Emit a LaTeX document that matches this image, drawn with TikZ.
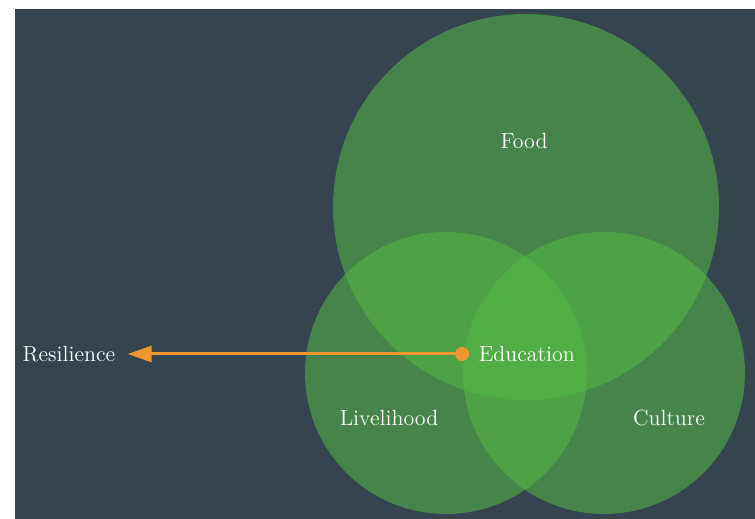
\documentclass[tikz,border=0pt]{standalone}
\usetikzlibrary{arrows.meta,positioning}
\definecolor{slate}{RGB}{52,69,79}
\definecolor{leaf}{RGB}{85,185,70}
\definecolor{carrot}{RGB}{240,150,46}
\tikzset{
	ring/.style={fill=leaf,fill opacity=0.55},
	word/.style={text=white,font=\fontsize{11}{13}\selectfont,inner sep=0pt},
}
\begin{document}
\begin{tikzpicture}[x=0.5pt,y=0.5pt]
		\useasboundingbox (0,0) rectangle (755,519);
		% nền
		\fill[slate] (15,0) rectangle (755,510);
		% ba hình tròn
		\begin{scope}
			\fill[ring] (526,312) circle (193);
			\fill[ring] (446,146) circle (141);
			\fill[ring] (604,146) circle (141);
		\end{scope}
			\node[word] (food) at (524,378) {Food};
			\node[word] (livelihood) at (389,101) {Livelihood};
			\node[word] (culture) at (669,101) {Culture};
			\node[circle,fill=carrot,minimum size=7pt,inner sep=0pt] (dot) at (462,165) {};
			\node[word,right=4.5pt of dot] (education) {Education};
			\node[word] (resilience) at (69,165) {Resilience};
		\draw[carrot,line width=1.5pt,-{Triangle[length=12pt,width=8pt]}] (dot) -- ([xshift=6pt]resilience.east);
	\end{tikzpicture}
\end{document}
